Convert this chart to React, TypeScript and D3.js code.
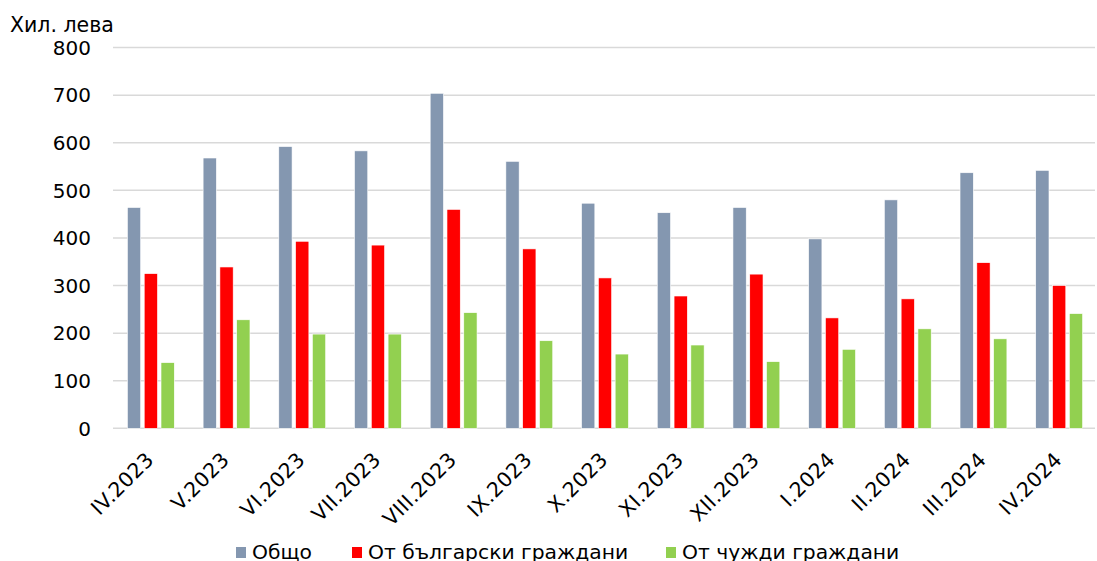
import React from "react";
import * as d3 from "d3";

const categories = ["IV.2023","V.2023","VI.2023","VII.2023","VIII.2023","IX.2023","X.2023","XI.2023","XII.2023","I.2024","II.2024","III.2024","IV.2024"];
const total = [464, 568, 592, 583, 704, 561, 473, 453, 464, 398, 480, 537, 542];
const bulgarian = [325, 339, 393, 385, 460, 377, 316, 278, 324, 232, 272, 348, 300];
const foreign = [138, 228, 198, 198, 243, 184, 156, 175, 140, 166, 209, 188, 241];
const seriesNames = ["Общо", "От български граждани", "От чужди граждани"];
const seriesColors = ["#8497B0", "#FF0000", "#92D050"];
const yTicks = [0, 100, 200, 300, 400, 500, 600, 700, 800];
const yTitle = "Хил. лева";

const W = 1097, H = 561;
const left = 113, right = 1097, top = 47.6, bottom = 428.3;
const FONT = "'DejaVu Sans', Verdana, sans-serif";

export default function App() {
  const series = [total, bulgarian, foreign];
  const x0 = d3.scaleBand<string>().domain(categories).range([left, right]).paddingInner(0).paddingOuter(0);
  const bw = x0.bandwidth();
  const x1 = d3.scaleBand<number>().domain([0, 1, 2]).range([bw / 2 - 25.2, bw / 2 + 25.2]).paddingInner(0.21).paddingOuter(0.105);
  const y = d3.scaleLinear().domain([0, 800]).range([bottom, top]);

  const legendItems = [
    { x: 236, tx: 252 },
    { x: 352, tx: 368 },
    { x: 666, tx: 682 },
  ];

  return (
    <svg width={W} height={H} style={{ position: "absolute", left: 0, top: 0, background: "#fff" }} fontFamily={FONT}>
      <rect x={0} y={0} width={W} height={H} fill="#fff" />
      {yTicks.map((t) => (
        <g key={t}>
          <line x1={left} x2={right - 2} y1={y(t)} y2={y(t)} stroke="#D9D9D9" strokeWidth={1.5} />
          <text x={91} y={y(t)} dy="0.36em" textAnchor="end" fontSize={20} fill="#000">{t}</text>
        </g>
      ))}
      <text x={10} y={32} fontSize={20.5} fill="#000">{yTitle}</text>
      {categories.map((c, i) => (
        <g key={c}>
          {series.map((s, k) => (
            <rect key={k}
              x={(x0(c) as number) + (x1(k) as number)}
              y={y(s[i])}
              width={x1.bandwidth()}
              height={y(0) - y(s[i])}
              fill={seriesColors[k]}
              stroke="#fff" strokeWidth={0.6} />
          ))}
          <text
            transform={`translate(${(x0(c) as number) + bw / 2 + 4},${461}) rotate(-45)`}
            textAnchor="end" fontSize={20.5} letterSpacing={0.3} fill="#000">{c}</text>
        </g>
      ))}
      {legendItems.map((l, k) => (
        <g key={k}>
          <rect x={l.x} y={547} width={10} height={11} fill={seriesColors[k]} />
          <text x={l.tx} y={559} fontSize={20.3} fill="#000">{seriesNames[k]}</text>
        </g>
      ))}
    </svg>
  );
}
